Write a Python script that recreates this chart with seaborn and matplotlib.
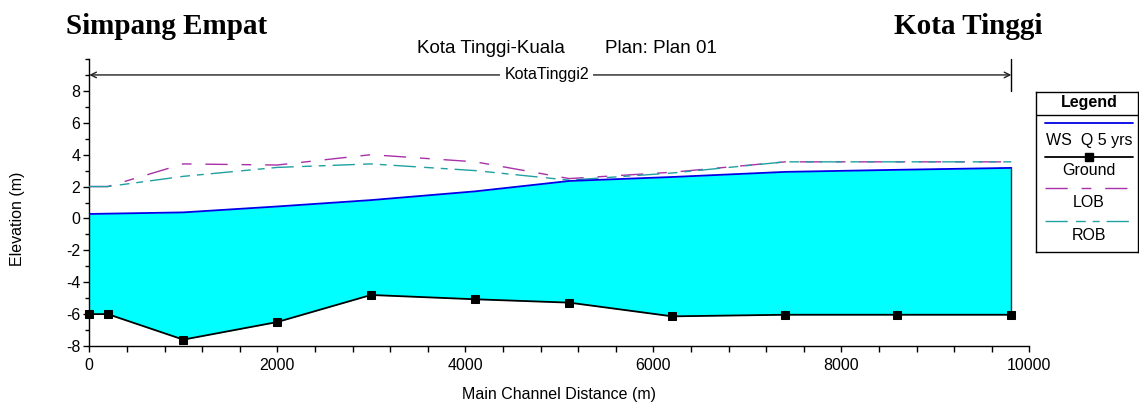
import matplotlib
matplotlib.use("Agg")
import matplotlib.pyplot as plt
from matplotlib.ticker import MultipleLocator
import seaborn as sns
import numpy as np

# профиль реки Kota Tinggi-Kuala, Plan 01
station = [0, 196, 1000, 1997, 2997, 4107, 5106, 6202, 7404, 8596, 9809]
ground = [-6.0, -6.0, -7.6, -6.5, -4.8, -5.07, -5.28, -6.14, -6.04, -6.04, -6.04]
ws_q5 = [0.28, 0.30, 0.38, 0.75, 1.15, 1.70, 2.35, 2.60, 2.92, 3.05, 3.17]
lob = [2.0, 2.0, 3.42, 3.35, 4.0, 3.55, 2.5, 2.9, 3.55, 3.55, 3.55]
rob = [2.0, 2.0, 2.64, 3.2, 3.42, 3.0, 2.4, 2.85, 3.55, 3.55, 3.55]

legend_labels = ["WS  Q 5 yrs", "Ground", "LOB", "ROB"]
reach_name = "KotaTinggi2"
title_left = "Kota Tinggi-Kuala"
title_right = "Plan: Plan 01"

W, H = 1139, 405
FILL = "#00FFFF"
WS_COL = "#0000E6"
LOB_COL = "#A830A8"
ROB_COL = "#20A0A0"
LOB_DASH = (0, (16, 10, 7, 10))
ROB_DASH = (0, (16, 6, 7, 5, 5, 5))

sns.set_style("ticks")
plt.rcParams["font.family"] = ["Liberation Sans", "DejaVu Sans"]
plt.rcParams["axes.unicode_minus"] = False
for k in ["text.color", "axes.labelcolor", "xtick.color", "ytick.color", "axes.edgecolor"]:
    plt.rcParams[k] = "black"


def px(x, y):
    return x / W, 1 - y / H


fig = plt.figure(figsize=(W / 100, H / 100), dpi=100)
ax = fig.add_axes([89.3 / W, 1 - 346 / H, 940 / W, 287 / H])

ax.fill_between(station, ground, ws_q5, color=FILL, linewidth=0, zorder=1)
ax.vlines(station[-1], ground[-1], ws_q5[-1], color="#333333", lw=1.0, zorder=2)

sns.lineplot(x=station, y=lob, ax=ax, color=LOB_COL, lw=1.0, linestyle=LOB_DASH,
             sort=False, estimator=None, zorder=3)
sns.lineplot(x=station, y=rob, ax=ax, color=ROB_COL, lw=1.0, linestyle=ROB_DASH,
             sort=False, estimator=None, zorder=3)
sns.lineplot(x=station, y=ws_q5, ax=ax, color=WS_COL, lw=1.3,
             sort=False, estimator=None, zorder=4)
sns.lineplot(x=station, y=ground, ax=ax, color="black", lw=1.3, marker="s",
             markersize=5.5, markeredgecolor="black", markerfacecolor="black",
             sort=False, estimator=None, zorder=5, clip_on=False)

ax.set_xlim(0, 10000)
ax.set_ylim(-8, 10)
ax.set_yticks(np.arange(-8, 9, 2))
ax.yaxis.set_minor_locator(MultipleLocator(1))
ax.set_xticks(np.arange(0, 10001, 2000))
ax.xaxis.set_minor_locator(MultipleLocator(400))
sns.despine(ax=ax)
for s in ["left", "bottom"]:
    ax.spines[s].set_linewidth(1.0)
    ax.spines[s].set_color("black")
ax.tick_params(axis="y", which="major", length=4.5, width=1, pad=2, labelsize=11.5, colors="black")
ax.tick_params(axis="y", which="minor", length=3, width=1)
ax.tick_params(axis="x", which="both", length=4, width=1, pad=5, labelsize=11.5, colors="black")
ax.set_xlabel("")
ax.set_ylabel("")

# стрелка участка реки
ax.annotate("", xy=(station[0], 9), xytext=(station[-1], 9),
            arrowprops=dict(arrowstyle="<->", color="#222222", lw=1.0,
                            shrinkA=0, shrinkB=0, mutation_scale=10),
            annotation_clip=False)
ax.plot([station[-1], station[-1]], [8, 10], color="black", lw=1.0, clip_on=False)
ax.text((station[0] + station[-1]) / 2 - 40, 9, reach_name, ha="center", va="center",
        fontsize=11.5, bbox=dict(facecolor="white", edgecolor="none", pad=3), zorder=6)

# подписи
fig.text(*px(66, 34.3), "Simpang Empat", ha="left", va="baseline", fontsize=21,
         fontweight="bold", family=["Liberation Serif", "DejaVu Serif"])
fig.text(*px(1042.7, 34.3), "Kota Tinggi", ha="right", va="baseline", fontsize=21,
         fontweight="bold", family=["Liberation Serif", "DejaVu Serif"])
fig.text(*px(416.7, 52.7), title_left, ha="left", va="baseline", fontsize=13.5)
fig.text(*px(605, 52.7), title_right, ha="left", va="baseline", fontsize=13.5)
fig.text(*px(559, 395), "Main Channel Distance (m)", ha="center", va="center", fontsize=11.5)
fig.text(*px(17.3, 219), "Elevation (m)", ha="center", va="center", rotation=90, fontsize=11.5)

# легенда
lax = fig.add_axes([1036 / W, 1 - 251.7 / H, 102 / W, 160 / H])
lax.set_xlim(1036, 1138)
lax.set_ylim(251.7, 91.7)
lax.set_xticks([])
lax.set_yticks([])
for s in lax.spines.values():
    s.set_visible(True)
    s.set_color("black")
    s.set_linewidth(1.0)
lax.text(1089, 102, "Legend", ha="center", va="center", fontsize=11.5, fontweight="bold")
lax.axhline(115, color="black", lw=1.0)
lx = [1045, 1133]
lax.plot(lx, [123.3, 123.3], color=WS_COL, lw=1.3)
lax.text(1089, 140, legend_labels[0], ha="center", va="center", fontsize=11.5)
lax.plot(lx, [156.7, 156.7], color="black", lw=1.3)
lax.plot([1089], [156.7], marker="s", color="black", markersize=5.5)
lax.text(1089, 171, legend_labels[1], ha="center", va="center", fontsize=11.5)
lax.plot(lx, [188.3, 188.3], color=LOB_COL, lw=1.0, linestyle=LOB_DASH)
lax.text(1089, 203, legend_labels[2], ha="center", va="center", fontsize=11.5)
lax.plot(lx, [220.7, 220.7], color=ROB_COL, lw=1.0, linestyle=ROB_DASH)
lax.text(1089, 236, legend_labels[3], ha="center", va="center", fontsize=11.5)

fig.savefig("out.png", dpi=100)
